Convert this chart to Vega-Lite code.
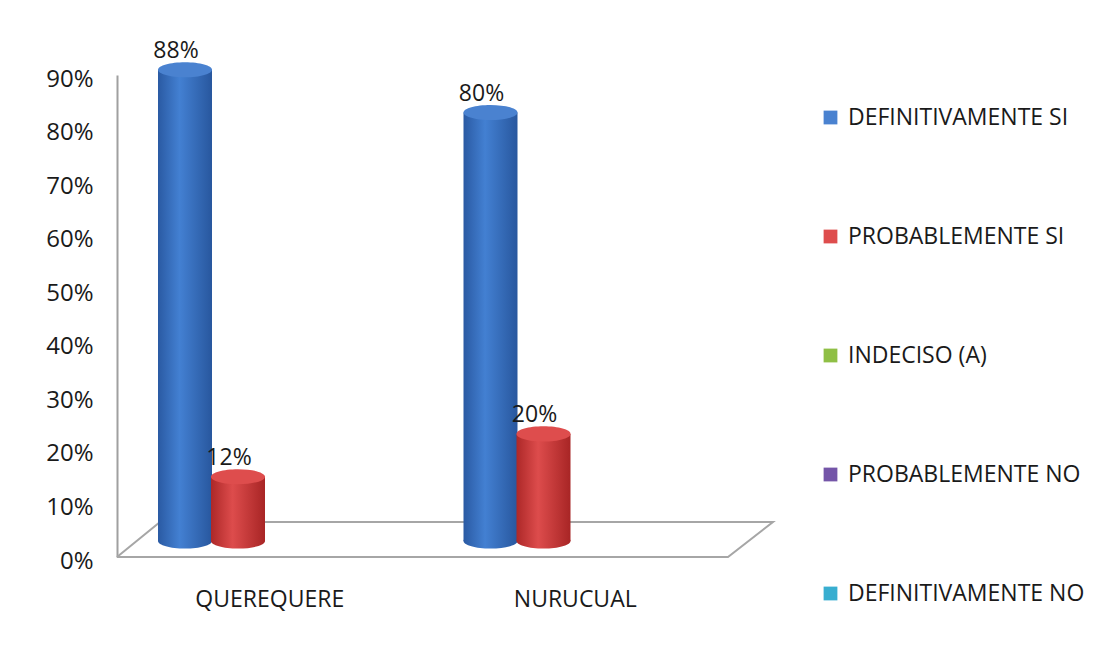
{
  "$schema": "https://vega.github.io/schema/vega-lite/v6.json",
  "width": 611,
  "height": 482,
  "autosize": {"type": "none"},
  "padding": {"left": 117, "top": 75, "right": 369, "bottom": 89},
  "background": "white",
  "config": {
    "view": {"stroke": null},
    "font": "Open Sans",
    "text": {"font": "Open Sans"}
  },
  "datasets": {
    "respuestas": [
      {"sector": "QUEREQUERE", "respuesta": "DEFINITIVAMENTE SI", "valor": 0.88},
      {"sector": "QUEREQUERE", "respuesta": "PROBABLEMENTE SI", "valor": 0.12},
      {"sector": "QUEREQUERE", "respuesta": "INDECISO (A)", "valor": 0},
      {"sector": "QUEREQUERE", "respuesta": "PROBABLEMENTE NO", "valor": 0},
      {"sector": "QUEREQUERE", "respuesta": "DEFINITIVAMENTE NO", "valor": 0},
      {"sector": "NURUCUAL", "respuesta": "DEFINITIVAMENTE SI", "valor": 0.80},
      {"sector": "NURUCUAL", "respuesta": "PROBABLEMENTE SI", "valor": 0.20},
      {"sector": "NURUCUAL", "respuesta": "INDECISO (A)", "valor": 0},
      {"sector": "NURUCUAL", "respuesta": "PROBABLEMENTE NO", "valor": 0},
      {"sector": "NURUCUAL", "respuesta": "DEFINITIVAMENTE NO", "valor": 0}
    ],
    "piso": [
      {"orden": 0, "px": 0, "py": 0},
      {"orden": 1, "px": 1, "py": 0},
      {"orden": 2, "px": 1.0736, "py": 0.0654},
      {"orden": 3, "px": 0.0704, "py": 0.0654},
      {"orden": 4, "px": 0, "py": 0}
    ]
  },
  "layer": [
    {
      "data": {"name": "piso"},
      "mark": {"type": "line", "stroke": "#a6a6a6", "strokeWidth": 2, "strokeJoin": "miter", "clip": false},
      "encoding": {
        "x": {"field": "px", "type": "quantitative", "scale": {"domain": [0, 1], "nice": false, "zero": false}, "axis": null},
        "y": {
          "field": "py", "type": "quantitative",
          "scale": {"domain": [0, 0.9], "nice": false},
          "axis": {
            "title": null,
            "values": [0, 0.1, 0.2, 0.3, 0.4, 0.5, 0.6, 0.7, 0.8, 0.9],
            "format": ".0%",
            "grid": false,
            "ticks": false,
            "domainColor": "#a0a0a0",
            "domainWidth": 2,
            "labelFontSize": 24,
            "labelFont": "Open Sans",
            "labelColor": "#1a1a1a",
            "labelPadding": 24,
            "labelOffset": 4,
            "labelFlush": false,
            "labelOverlap": false,
            "labelBound": false
          }
        },
        "order": {"field": "orden", "type": "quantitative"}
      }
    },
    {
      "data": {"name": "respuestas"},
      "encoding": {
        "x": {
          "field": "sector", "type": "nominal", "sort": null,
          "scale": {"paddingInner": 0, "paddingOuter": 0},
          "axis": {
            "title": null, "labelAngle": 0, "domain": false, "ticks": false,
            "labelFontSize": 23, "labelFont": "Open Sans", "labelColor": "#1a1a1a", "labelPadding": 31
          }
        },
        "xOffset": {
          "field": "respuesta", "type": "nominal",
          "scale": {
            "domain": ["DEFINITIVAMENTE SI", "PROBABLEMENTE SI", "INDECISO (A)", "PROBABLEMENTE NO", "DEFINITIVAMENTE NO"],
            "range": [41.5, 306.5],
            "paddingInner": 0,
            "paddingOuter": 0
          }
        },
        "y": {"field": "valor", "type": "quantitative", "scale": {"domain": [0, 0.9], "nice": false}}
      },
      "layer": [
        {
          "transform": [{"filter": "datum.respuesta === 'DEFINITIVAMENTE SI'"}],
          "mark": {
            "type": "point", "filled": true, "size": 2916, "strokeWidth": 0, "opacity": 1, "yOffset": -16,
            "shape": "M-1,0A1,0.28,0,1,0,1,0A1,0.28,0,1,0,-1,0Z",
            "fill": {"gradient": "linear", "x1": 0, "x2": 1, "y1": 0, "y2": 0,
              "stops": [{"offset": 0, "color": "#2a5aa3"}, {"offset": 0.4, "color": "#4380d2"}, {"offset": 1, "color": "#28579e"}]}
          },
          "encoding": {"y": {"datum": 0}}
        },
        {
          "transform": [{"filter": "datum.respuesta === 'DEFINITIVAMENTE SI'"}],
          "mark": {
            "type": "bar", "width": 54, "yOffset": -16, "y2Offset": -16,
            "fill": {"gradient": "linear", "x1": 0, "x2": 1, "y1": 0, "y2": 0,
              "stops": [{"offset": 0, "color": "#2a5aa3"}, {"offset": 0.4, "color": "#4380d2"}, {"offset": 1, "color": "#28579e"}]}
          }
        },
        {
          "transform": [{"filter": "datum.respuesta === 'PROBABLEMENTE SI'"}],
          "mark": {
            "type": "point", "filled": true, "size": 2916, "strokeWidth": 0, "opacity": 1, "yOffset": -16,
            "shape": "M-1,0A1,0.28,0,1,0,1,0A1,0.28,0,1,0,-1,0Z",
            "fill": {"gradient": "linear", "x1": 0, "x2": 1, "y1": 0, "y2": 0,
              "stops": [{"offset": 0, "color": "#ad2828"}, {"offset": 0.4, "color": "#dd4c4c"}, {"offset": 1, "color": "#a82525"}]}
          },
          "encoding": {"y": {"datum": 0}}
        },
        {
          "transform": [{"filter": "datum.respuesta === 'PROBABLEMENTE SI'"}],
          "mark": {
            "type": "bar", "width": 54, "yOffset": -16, "y2Offset": -16,
            "fill": {"gradient": "linear", "x1": 0, "x2": 1, "y1": 0, "y2": 0,
              "stops": [{"offset": 0, "color": "#ad2828"}, {"offset": 0.4, "color": "#dd4c4c"}, {"offset": 1, "color": "#a82525"}]}
          }
        },
        {
          "transform": [{"filter": "datum.valor > 0"}],
          "mark": {
            "type": "point", "filled": true, "size": 2916, "strokeWidth": 0, "opacity": 1, "yOffset": -16,
            "shape": "M-1,0A1,0.28,0,1,0,1,0A1,0.28,0,1,0,-1,0Z"
          },
          "encoding": {
            "color": {
              "field": "respuesta", "type": "nominal",
              "scale": {
                "domain": ["DEFINITIVAMENTE SI", "PROBABLEMENTE SI", "INDECISO (A)", "PROBABLEMENTE NO", "DEFINITIVAMENTE NO"],
                "range": ["#4a82d0", "#de4d4d", "#8fbf45", "#7455a8", "#38aed0"]
              },
              "legend": {
                "title": null,
                "orient": "none",
                "legendX": 702,
                "legendY": 31,
                "direction": "vertical",
                "symbolType": "square",
                "symbolSize": 190,
                "symbolStrokeWidth": 0,
                "labelFontSize": 23,
                "labelFont": "Open Sans",
                "labelColor": "#1a1a1a",
                "labelOffset": 6,
                "labelLimit": 400,
                "rowPadding": 95
              }
            }
          }
        },
        {
          "transform": [{"filter": "datum.valor > 0"}],
          "mark": {"type": "text", "dx": -9, "dy": -35, "fontSize": 23, "font": "Open Sans", "color": "#1a1a1a"},
          "encoding": {"text": {"field": "valor", "type": "quantitative", "format": ".0%"}}
        }
      ]
    }
  ],
  "resolve": {"scale": {"x": "independent"}}
}
